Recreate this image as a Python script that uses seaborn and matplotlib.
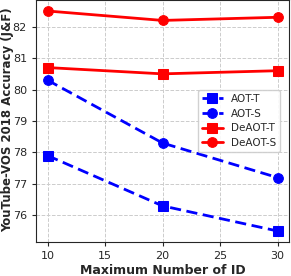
import matplotlib
matplotlib.use("Agg")
import matplotlib.pyplot as plt
import seaborn as sns
import pandas as pd

max_ids = [10, 20, 30]
aot_t = [77.9, 76.3, 75.5]
aot_s = [80.3, 78.3, 77.2]
deaot_t = [80.7, 80.5, 80.6]
deaot_s = [82.5, 82.2, 82.3]

sns.set_style("ticks")
plt.rcParams['font.family'] = ['DejaVu Sans']

fig = plt.figure(figsize=(2.91, 2.76), dpi=100)
ax = fig.add_axes([36 / 291, 34 / 276, 253 / 291, 242 / 276])

series = [
    ("AOT-T", aot_t, "blue", "s", (4, 2)),
    ("AOT-S", aot_s, "blue", "o", (4, 2)),
    ("DeAOT-T", deaot_t, "red", "s", ""),
    ("DeAOT-S", deaot_s, "red", "o", ""),
]
for name, vals, color, marker, dash in series:
    df = pd.DataFrame({"x": max_ids, "y": vals})
    sns.lineplot(data=df, x="x", y="y", ax=ax, color=color, marker=marker,
                 markersize=7, linewidth=2, markeredgecolor=color, label=name)
    if dash:
        ax.lines[-1].set_dashes(dash)

ax.set_xticks([10, 15, 20, 25, 30])
ax.set_yticks([76, 77, 78, 79, 80, 81, 82])
ax.tick_params(labelsize=8, length=3)
ax.grid(True, linestyle="--", color="#cccccc", linewidth=0.7)
ax.set_xlabel("Maximum Number of ID", fontsize=9, fontweight="bold", labelpad=2)
ax.set_ylabel("YouTube-VOS 2018 Accuracy (J&F)", fontsize=8.5, fontweight="bold")
ax.yaxis.set_label_coords(-0.088, 0.505)
ax.legend(loc="center right", fontsize=7.5, handlelength=2.0, borderpad=0.35,
          labelspacing=0.45, handletextpad=0.8, framealpha=0.9,
          bbox_to_anchor=(0.985, 0.5))

fig.savefig("out.png", dpi=100)
